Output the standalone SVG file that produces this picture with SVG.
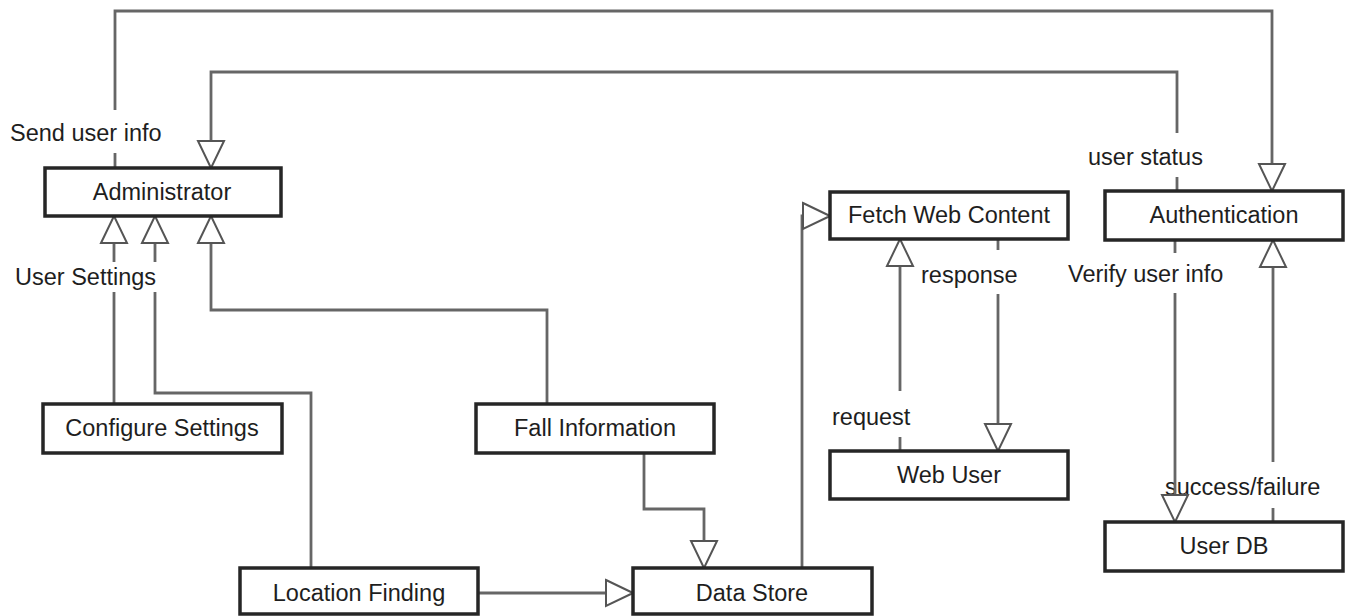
<svg xmlns="http://www.w3.org/2000/svg" width="1350" height="616" viewBox="0 0 1350 616">
  <style>
    .box { fill: #ffffff; stroke: #262626; stroke-width: 3.5; }
    .name { font-family: "Liberation Sans", Arial, sans-serif; font-size: 23.5px; fill: #1e1e1e; text-anchor: middle; }
    .lbl { font-family: "Liberation Sans", Arial, sans-serif; font-size: 23.5px; fill: #1e1e1e; }
    .wire { fill: none; stroke: #666666; stroke-width: 2.8; marker-end: url(#open); }
  </style>
  <defs>
    <marker id="open" viewBox="-2 -2 31 30" refX="27" refY="13" markerWidth="31" markerHeight="30" markerUnits="userSpaceOnUse" orient="auto">
      <path d="M0,0 L27,13 L0,26 Z" fill="#ffffff" stroke="#555555" stroke-width="2"/>
    </marker>
  </defs>
  <rect width="1350" height="616" fill="#ffffff"/>

  <!-- flow labels -->
  <g id="labels">
    <text class="lbl" x="10" y="141">Send user info</text>
    <text class="lbl" x="15" y="285">User Settings</text>
    <text class="lbl" x="1088" y="165">user status</text>
    <text class="lbl" x="1068" y="282">Verify user info</text>
    <text class="lbl" x="1165" y="495">success/failure</text>
    <text class="lbl" x="921" y="283">response</text>
    <text class="lbl" x="832" y="425">request</text>
  </g>

  <!-- connectors -->
  <g id="connectors">
    <path class="wire" d="M115,168 V153 M115,110 V11 H1272 V191"/>
    <path class="wire" d="M1177,191 V177 M1177,133 V72 H211 V168"/>
    <path class="wire" d="M114,404 V292 M114,262 V216"/>
    <path class="wire" d="M311,568 V393 H155 V292 M155,262 V216"/>
    <path class="wire" d="M547,404 V310 H211 V216"/>
    <path class="wire" d="M644,453 V509 H704 V568"/>
    <path class="wire" d="M478,593 H633"/>
    <path class="wire" d="M802,568 V216 H830"/>
    <path class="wire" d="M900,451 V437 M900,391 V239"/>
    <path class="wire" d="M998,239 V250 M998,294 V451"/>
    <path class="wire" d="M1175,240 V253 M1175,293 V522"/>
    <path class="wire" d="M1273,522 V508 M1273,462 V240"/>
  </g>

  <g id="administrator">
    <rect class="box" x="45" y="168" width="236" height="48"/>
    <text class="name" x="162" y="200">Administrator</text>
  </g>
  <g id="configure-settings">
    <rect class="box" x="43" y="404" width="239" height="49"/>
    <text class="name" x="162" y="436">Configure Settings</text>
  </g>
  <g id="fall-information">
    <rect class="box" x="476" y="404" width="238" height="49"/>
    <text class="name" x="595" y="436">Fall Information</text>
  </g>
  <g id="location-finding">
    <rect class="box" x="240" y="568" width="238" height="46"/>
    <text class="name" x="359" y="601">Location Finding</text>
  </g>
  <g id="data-store">
    <rect class="box" x="633" y="568" width="239" height="46"/>
    <text class="name" x="752" y="601">Data Store</text>
  </g>
  <g id="fetch-web-content">
    <rect class="box" x="830" y="192" width="238" height="47"/>
    <text class="name" x="949" y="223">Fetch Web Content</text>
  </g>
  <g id="web-user">
    <rect class="box" x="830" y="451" width="238" height="48"/>
    <text class="name" x="949" y="483">Web User</text>
  </g>
  <g id="authentication">
    <rect class="box" x="1105" y="191" width="238" height="49"/>
    <text class="name" x="1224" y="223">Authentication</text>
  </g>
  <g id="user-db">
    <rect class="box" x="1105" y="522" width="238" height="49"/>
    <text class="name" x="1224" y="554">User DB</text>
  </g>
</svg>
